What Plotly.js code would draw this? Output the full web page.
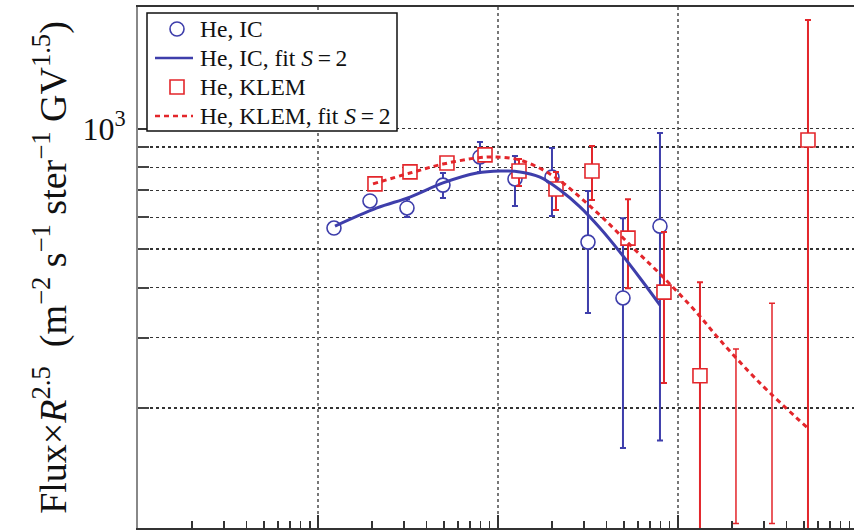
<!DOCTYPE html>
<html>
<head>
<meta charset="utf-8">
<script src="https://cdn.plot.ly/plotly-3.0.1.min.js"></script>
<style>html,body{margin:0;padding:0;background:#fff;}#chart{width:854px;height:530px;}</style>
</head>
<body>
<div id="chart"></div>
<script>
// ---- data (rigidity R in GV, Flux x R^2.5) ----
const icR      = [1227, 1945, 3122, 4948, 7943, 12430, 19953, 31623, 49480, 79433];
const icFlux   = [564, 659, 633, 722, 849, 748, 756, 520, 377, 570];
const icHi     = [564, 659, 666, 774, 925, 854, 894, 698, 597, 974];
const icLo     = [564, 659, 601, 670, 779, 640, 604, 346, 159, 166];

const klemR    = [2073, 3245, 5207, 8471, 13085, 21000, 33290, 52760, 83600, 132500, 527600];
const klemFlux = [727, 779, 820, 859, 783, 706, 783, 532, 390, 241, 936];
const klemHi   = [727, 779, 820, 859, 839, 779, 904, 666, 551, 413, 1867];
const klemLo   = [727, 779, 820, 859, 718, 626, 663, 399, 231, 60, 50];

// KLEM bins shown only as error bars (central value off scale)
const klemLimR    = [210000, 333000];
const klemLimFlux = [170, 195];
const klemLimHi   = [281, 366];
const klemLimLo   = [103, 103];

const icFitR    = [1243, 2127, 3245, 4948, 7643, 10260, 13250, 17120, 22110, 28550, 36870, 47610, 61500, 79430];
const icFitFlux = [570, 633, 674, 731, 774, 783, 779, 756, 702, 637, 564, 491, 423, 362];

const klemFitR    = [2021, 3245, 4948, 7643, 9873, 13250, 17780, 22970, 29660, 39300, 55520, 79430, 127500, 171100, 285500, 520700];
const klemFitFlux = [727, 774, 815, 844, 849, 834, 788, 731, 663, 591, 506, 433, 346, 296, 231, 179];

const legendLabels = ['He, IC', 'He, IC, fit <i>S</i>\u2009=\u20092', 'He, KLEM', 'He, KLEM, fit <i>S</i>\u2009=\u20092'];

const yMinorVals = [200, 300, 400, 500, 600, 700, 800, 900];
const yMajorVals = [1000];
const yMajorText = ['10<sup>3</sup>'];
const xMajorVals = [100, 1000, 10000, 100000, 1000000];
const xMinorVals = [];
[100, 1000, 10000, 100000].forEach(d => { for (let k = 2; k <= 9; k++) xMinorVals.push(k * d); });

const BLUE = '#3e3eab';
const RED = '#e3262b';
const SERIF = '"Liberation Serif", "Times New Roman", serif';

const up = (hi, v) => hi.map((h, i) => h - v[i]);
const dn = (lo, v) => lo.map((l, i) => v[i] - l);

const traces = [
  {
    x: icR, y: icFlux, type: 'scatter', mode: 'markers', name: legendLabels[0],
    marker: {symbol: 'circle', size: 14, color: 'rgba(255,255,255,1)', line: {color: BLUE, width: 1.6}},
    error_y: {type: 'data', symmetric: false, array: up(icHi, icFlux), arrayminus: dn(icLo, icFlux),
              color: BLUE, thickness: 2, width: 3}
  },
  {
    x: klemR, y: klemFlux, type: 'scatter', mode: 'markers', name: legendLabels[2],
    marker: {symbol: 'square', size: 14, color: 'rgba(255,255,255,1)', line: {color: RED, width: 1.6}},
    error_y: {type: 'data', symmetric: false, array: up(klemHi, klemFlux), arrayminus: dn(klemLo, klemFlux),
              color: RED, thickness: 2, width: 3}
  },
  {
    x: klemLimR, y: klemLimFlux, type: 'scatter', mode: 'markers', showlegend: false,
    marker: {size: 1, opacity: 0, color: RED},
    error_y: {type: 'data', symmetric: false, array: up(klemLimHi, klemLimFlux), arrayminus: dn(klemLimLo, klemLimFlux),
              color: RED, thickness: 1.5, width: 3}
  },
  {
    x: icFitR, y: icFitFlux, type: 'scatter', mode: 'lines', name: legendLabels[1],
    line: {color: BLUE, width: 3, shape: 'spline'}
  },
  {
    x: klemFitR, y: klemFitFlux, type: 'scatter', mode: 'lines', name: legendLabels[3],
    line: {color: RED, width: 3, dash: '5px,4px', shape: 'spline'}
  }
];

// ---- hand-drawn legend box (pixel -> paper helpers) ----
const W = 854, H = 530, ML = 138, MR = 0, MT = 7, MB = 2;
const PW = W - ML - MR, PH = H - MT - MB;
const px = v => (v - ML) / PW;
const py = v => (H - MB - v) / PH;
const rowY = [29, 58, 87, 116];

const shapes = [
  {type: 'rect', xref: 'paper', yref: 'paper', x0: px(147), x1: px(397), y0: py(131), y1: py(13),
   line: {color: '#111', width: 1.5}, fillcolor: '#fff', layer: 'above'},
  {type: 'circle', xref: 'paper', yref: 'paper', x0: px(170), x1: px(184), y0: py(rowY[0] + 7), y1: py(rowY[0] - 7),
   line: {color: BLUE, width: 1.6}, fillcolor: 'rgba(0,0,0,0)', layer: 'above'},
  {type: 'line', xref: 'paper', yref: 'paper', x0: px(155), x1: px(193), y0: py(rowY[1]), y1: py(rowY[1]),
   line: {color: BLUE, width: 2.5}, layer: 'above'},
  {type: 'rect', xref: 'paper', yref: 'paper', x0: px(170), x1: px(184), y0: py(rowY[2] + 7), y1: py(rowY[2] - 7),
   line: {color: RED, width: 1.6}, fillcolor: 'rgba(0,0,0,0)', layer: 'above'},
  {type: 'line', xref: 'paper', yref: 'paper', x0: px(155), x1: px(193), y0: py(rowY[3]), y1: py(rowY[3]),
   line: {color: RED, width: 2.5, dash: '5px,4px'}, layer: 'above'}
];

const annotations = legendLabels.map((t, i) => ({
  text: t, xref: 'paper', yref: 'paper', x: px(198), y: py(rowY[i]),
  xanchor: 'left', yanchor: 'middle', showarrow: false,
  font: {family: SERIF, size: 23.5, color: '#111'}
}));

const layout = {
  width: W, height: H,
  margin: {l: ML, r: MR, t: MT, b: MB, pad: 0},
  paper_bgcolor: '#fff', plot_bgcolor: '#fff',
  font: {family: SERIF, color: '#111', size: 24},
  showlegend: false,
  shapes: shapes,
  annotations: annotations,
  xaxis: {
    type: 'log', range: [2, 5.978], autorange: false,
    showline: true, linecolor: '#333', linewidth: 2, mirror: true,
    ticks: 'inside', ticklen: 13, tickwidth: 1.5, tickcolor: '#333',
    tickmode: 'array', tickvals: xMajorVals, showticklabels: false,
    showgrid: true, gridcolor: '#777', gridwidth: 1.2, griddash: 'dot',
    minor: {tickmode: 'array', tickvals: xMinorVals, ticks: 'inside', ticklen: 7, tickwidth: 1.5,
            tickcolor: '#333', showgrid: false},
    zeroline: false
  },
  yaxis: {
    type: 'log', range: [2.0013, 3.3038], autorange: false,
    showline: true, linecolor: '#888', linewidth: 2, mirror: false,
    ticks: 'inside', ticklen: 11, tickwidth: 2, tickcolor: '#333',
    tickmode: 'array', tickvals: yMajorVals, ticktext: yMajorText,
    tickfont: {family: SERIF, size: 32, color: '#111'},
    ticklabelstandoff: 4,
    showgrid: true, gridcolor: '#333', gridwidth: 1.4, griddash: 'dot',
    minor: {tickmode: 'array', tickvals: yMinorVals, ticks: 'inside', ticklen: 11, tickwidth: 2,
            tickcolor: '#444', showgrid: true, gridcolor: '#333', gridwidth: 1.4, griddash: 'dot'},
    zeroline: false,
    title: {
      text: 'Flux×<i>R</i><sup>2.5</sup>  (m<sup>−2</sup> s<sup>−1</sup> ster<sup>−1</sup> GV<sup>1.5</sup>)',
      font: {family: SERIF, size: 38, color: '#111'},
      standoff: 4
    },
    automargin: false
  }
};

Plotly.newPlot('chart', traces, layout, {staticPlot: true, displayModeBar: false});
</script>
</body>
</html>
